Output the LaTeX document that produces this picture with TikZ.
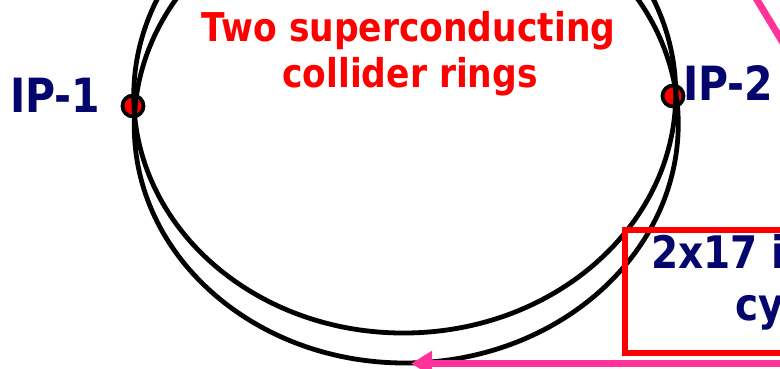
\documentclass[tikz,border=0pt]{standalone}
\usepackage{fontspec}
\setmainfont{DejaVu Sans}
\usetikzlibrary{arrows.meta}
\definecolor{navy}{RGB}{5,5,110}
\definecolor{hotpink}{RGB}{255,51,153}
\definecolor{pured}{RGB}{255,0,0}
\tikzset{
  ring/.style={draw=black,line width=4.8pt},
  ipdot/.style={circle,draw=black,fill=pured,line width=3.8pt,minimum size=21pt,inner sep=0pt},
  iplabel/.style={text=navy,font=\bfseries\fontsize{41}{48}\selectfont,inner sep=0pt,anchor=base west},
  title/.style={text=pured,font=\bfseries\fontsize{34.5}{44}\selectfont,inner sep=0pt,anchor=base},
  boxtext/.style={text=navy,font=\bfseries\fontsize{39}{48}\selectfont,inner sep=0pt,anchor=base west},
  pinkline/.style={draw=hotpink,line width=7pt},
  redbox/.style={draw=pured,line width=6pt}
}
\newcommand{\tall}[1]{\scalebox{1}[1.15]{#1}}
\begin{document}
\begin{tikzpicture}[x=1pt,y=-1pt]
\useasboundingbox (0,0) rectangle (780,369);
\clip (0,0) rectangle (780,369);
% interaction point markers
\node[ipdot] (ip1) at (133,106) {};
\node[ipdot] (ip2) at (673,96) {};
% two rings
\begin{scope}[rotate around={1:(405.5,110)}]
  \draw[ring] (405,95) ellipse [x radius=271, y radius=238];
  \draw[ring] (406,125) ellipse [x radius=272, y radius=238];
\end{scope}
% labels
\node[iplabel] (l1) at (10,113) {\tall{IP-1}};
\node[iplabel] (l2) at (683,100) {\tall{IP-2}};
\node[title] (t1) at (408.5,42) {\tall{Two superconducting}};
\node[title] (t2) at (410,88) {\tall{collider rings}};
% box
\draw[redbox] (624.5,230) rectangle (800,353);
\node[boxtext] (b1) at (651,268) {\tall{2x17 i}};
\node[boxtext] (b2) at (735,320) {\tall{cy}};
% pink arrow
\coordinate (arrstart) at (800,363.5);
\coordinate (ringbottom) at (411,363.5);
\draw[pinkline,-{Triangle[length=21pt,width=24pt]}] (arrstart) -- (ringbottom);
% pink line top right
\coordinate (pa) at (745,-20);
\coordinate (pb) at (800,71);
\draw[pinkline] (pa) -- (pb);
\end{tikzpicture}
\end{document}
